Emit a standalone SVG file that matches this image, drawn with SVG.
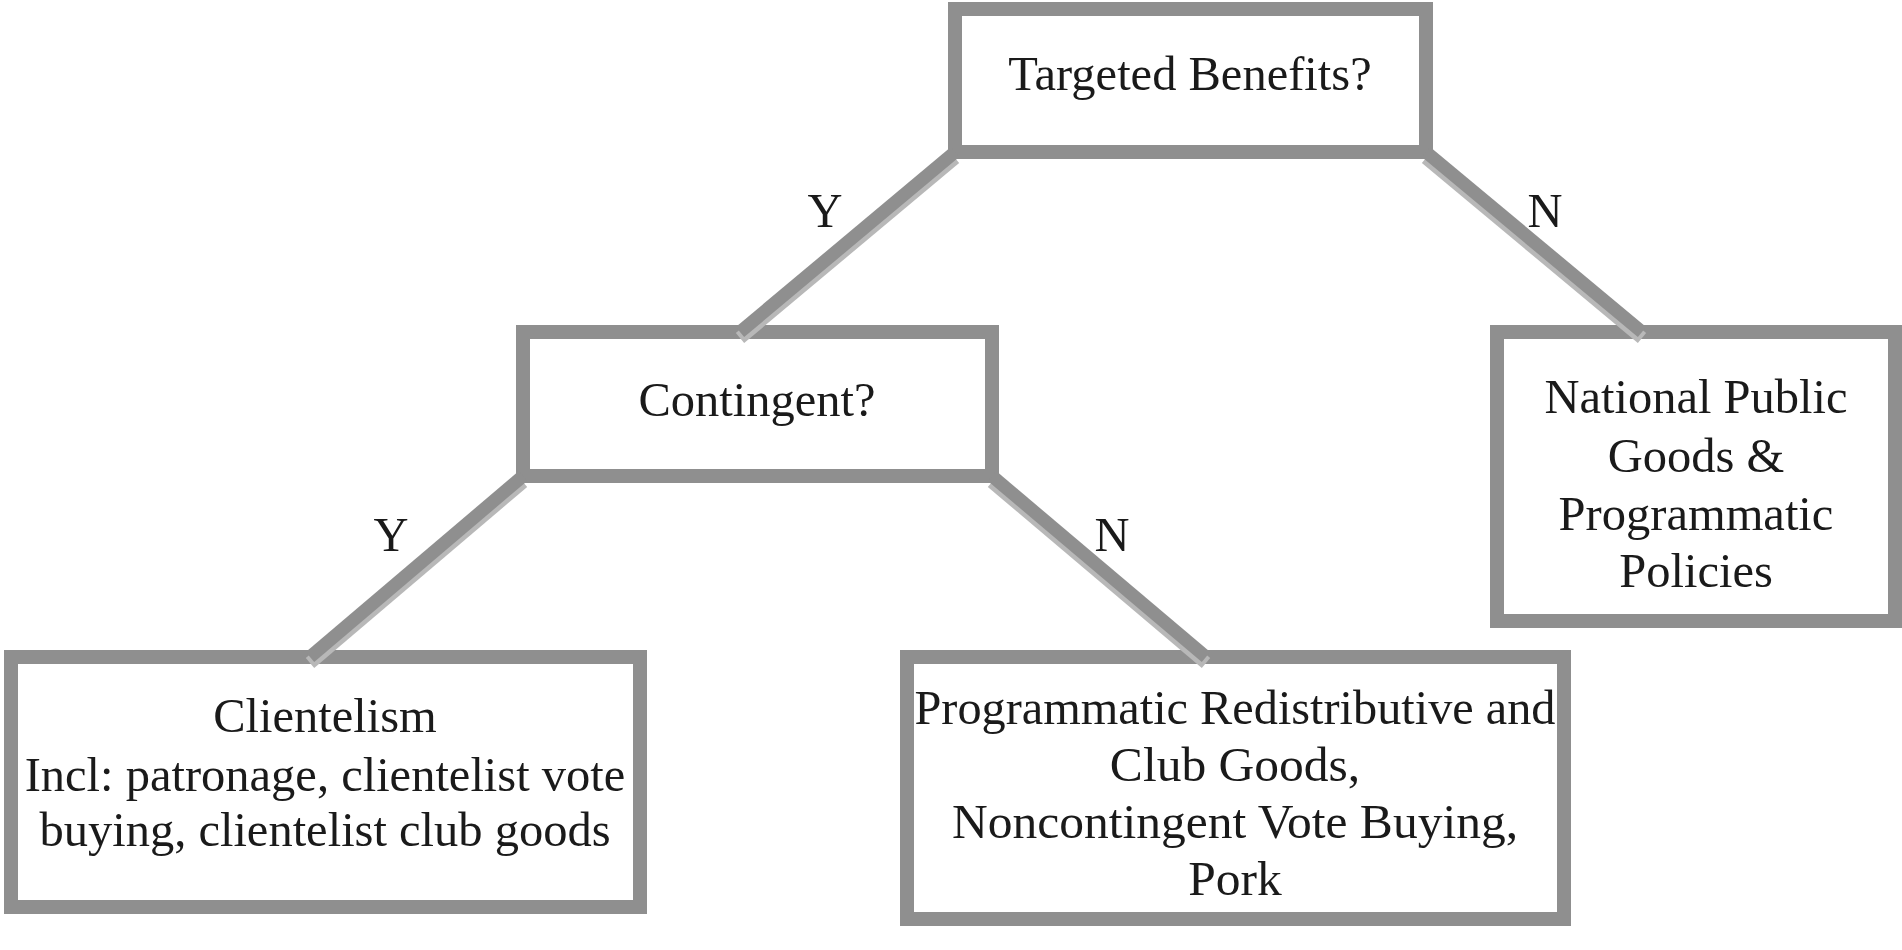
<svg xmlns="http://www.w3.org/2000/svg" width="1902" height="950" viewBox="0 0 1902 950">
  <style>
    .box { fill: #ffffff; stroke: #8f8f8f; stroke-width: 14; }
    .t { font-family: "Liberation Serif", "Times New Roman", serif; font-size: 48.5px; fill: #1a1a1a; text-anchor: middle; }
    .tp { font-size: 49.5px; }
    .edge { stroke: #8f8f8f; stroke-width: 13; fill: none; stroke-linecap: butt; }
    .shadow { stroke: #b8b8b8; stroke-width: 13; fill: none; stroke-linecap: butt; }
  </style>
  <rect width="1902" height="950" fill="#ffffff"/>

  <g id="node-targeted">
    <rect class="box" x="955" y="9" width="471" height="143"/>
    <text class="t" x="1190" y="90">Targeted Benefits?</text>
  </g>

  <g id="node-contingent">
    <rect class="box" x="523" y="332" width="469" height="144"/>
    <text class="t" x="757" y="416">Contingent?</text>
  </g>

  <g id="node-national">
    <rect class="box" x="1497" y="332" width="398" height="289"/>
    <text class="t" x="1696" y="413">National Public</text>
    <text class="t" x="1696" y="472">Goods &amp;</text>
    <text class="t" x="1696" y="530">Programmatic</text>
    <text class="t" x="1696" y="587">Policies</text>
  </g>

  <g id="node-clientelism">
    <rect class="box" x="11" y="657" width="629" height="250"/>
    <text class="t" x="325" y="732">Clientelism</text>
    <text class="t" x="325" y="791">Incl: patronage, clientelist vote</text>
    <text class="t" x="325" y="846">buying, clientelist club goods</text>
  </g>

  <g id="node-programmatic">
    <rect class="box" x="907" y="657" width="657" height="262"/>
    <text class="t tp" x="1235" y="724" textLength="641" lengthAdjust="spacingAndGlyphs">Programmatic Redistributive and</text>
    <text class="t tp" x="1235" y="781">Club Goods,</text>
    <text class="t tp" x="1235" y="838">Noncontingent Vote Buying,</text>
    <text class="t tp" x="1235" y="895">Pork</text>
  </g>

  <g id="connectors">
    <g transform="translate(0,6)">
      <line class="shadow" x1="955" y1="152" x2="740" y2="332"/>
      <line class="shadow" x1="1426" y1="152" x2="1642" y2="332"/>
      <line class="shadow" x1="523" y1="476" x2="310" y2="657"/>
      <line class="shadow" x1="992" y1="476" x2="1206" y2="657"/>
    </g>
    <line class="edge" x1="955" y1="152" x2="740" y2="332"/>
    <line class="edge" x1="1426" y1="152" x2="1642" y2="332"/>
    <line class="edge" x1="523" y1="476" x2="310" y2="657"/>
    <line class="edge" x1="992" y1="476" x2="1206" y2="657"/>
  </g>

  <g id="edge-labels">
    <text class="t" x="825" y="227">Y</text>
    <text class="t" x="1545" y="227">N</text>
    <text class="t" x="391" y="551">Y</text>
    <text class="t" x="1112" y="551">N</text>
  </g>
</svg>
